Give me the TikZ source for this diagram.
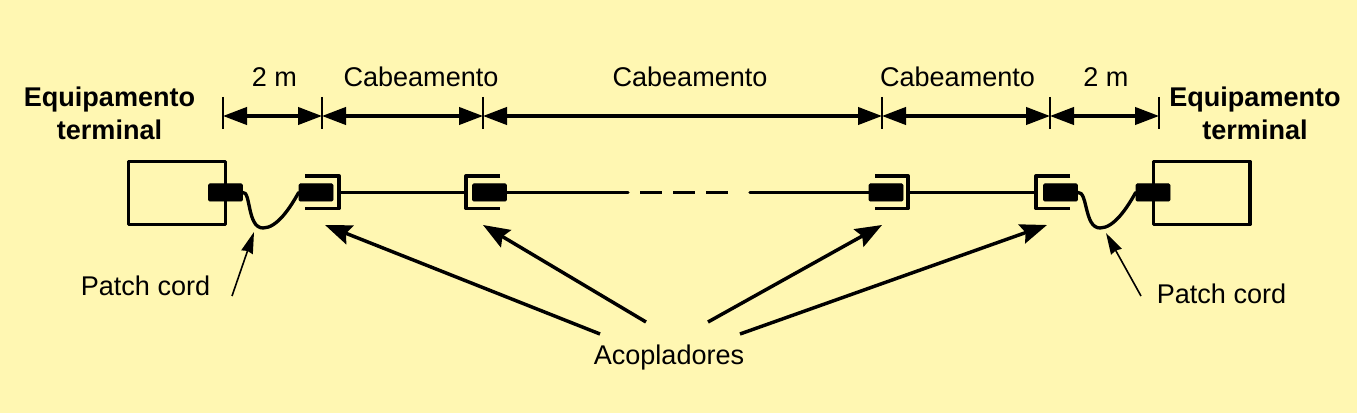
\documentclass[tikz,border=0pt]{standalone}
\usepackage{fontspec}
\setmainfont{Liberation Sans}
\usetikzlibrary{arrows.meta}
\definecolor{bg}{HTML}{FFF7B2}
\tikzset{
  x=0.75pt,y=-0.75pt,
  lab/.style={font=\fontsize{20.3}{24}\selectfont,inner sep=0pt,text=black},
  blab/.style={font=\fontsize{20.3}{24.6}\selectfont\bfseries,inner sep=0pt,align=center},
  wire/.style={line width=2.5pt,line cap=round},
  boxs/.style={draw,line width=2.5pt,line join=round,fill=none},
  plug/.style={fill=black,draw=black,line width=0.5pt,rounded corners=1pt,minimum width=25.5pt,minimum height=13pt,inner sep=0pt},
  dim/.style={line width=2.3pt,{Triangle[length=18pt,width=13pt]}-{Triangle[length=18pt,width=13pt]}},
  tick/.style={line width=1.3pt},
  bigarrow/.style={line width=2.6pt,-{Stealth[length=20pt,width=15pt,inset=3pt]}},
  thinarrow/.style={line width=1.2pt,-{Stealth[length=16pt,width=9pt,inset=1pt]}}
}
\begin{document}
\begin{tikzpicture}
\useasboundingbox[fill=bg] (0,0) rectangle (1357,413);
% end equipment
\node[boxs,minimum width=72.5pt,minimum height=47.5pt,inner sep=0pt] (eqL) at (177,193) {};
\node[boxs,minimum width=72.5pt,minimum height=47.5pt,inner sep=0pt] (eqR) at (1201.5,193) {};
% plugs
\node[plug] (pL) at (225.5,192.5) {};
\node[plug] (p1) at (316,192.5) {};
\node[plug] (p2) at (489.5,192.5) {};
\node[plug] (p3) at (886,192.5) {};
\node[plug] (p4) at (1060.5,192.5) {};
\node[plug] (pR) at (1153,192.5) {};
% coupler brackets
\coordinate (c1) at (339,192.5);
\coordinate (c2) at (466,192.5);
\coordinate (c3) at (908,192.5);
\coordinate (c4) at (1036,192.5);
\draw[boxs] (305,176) -- (339,176) -- (339,208.5) -- (305,208.5);
\draw[boxs] (500,176) -- (466,176) -- (466,208.5) -- (500,208.5);
\draw[boxs] (875,176) -- (908,176) -- (908,208.5) -- (875,208.5);
\draw[boxs] (1070,176) -- (1036,176) -- (1036,208.5) -- (1070,208.5);
% cables
\draw[wire] (c1) -- (c2);
\draw[wire] (c3) -- (c4);
\coordinate (d1) at (628,192.5);
\coordinate (d2) at (750,192.5);
\draw[wire] (p2.east) -- (d1);
\draw[wire,line cap=butt] (640,192.5) -- (662,192.5);
\draw[wire,line cap=butt] (673,192.5) -- (695,192.5);
\draw[wire,line cap=butt] (706,192.5) -- (728,192.5);
\draw[wire] (d2) -- (p3.west);
% patch cords
\draw[wire] (pL.east) .. controls (251,191) and (247,228) .. (263,228) .. controls (277,228) and (290,208) .. (p1.west);
\draw[wire] (p4.east) .. controls (1088,191) and (1084,228) .. (1100,228) .. controls (1114,228) and (1127,208) .. (pR.west);
% dimension ticks
\foreach \n/\x in {t1/223,t2/322,t3/483,t4/882,t5/1050,t6/1159}{
  \coordinate (\n a) at (\x,97);
  \coordinate (\n b) at (\x,129);
  \coordinate (\n) at (\x,116);
  \draw[tick] (\n a) -- (\n b);
}
\draw[dim] (t1) -- (t2);
\draw[dim] (t2) -- (t3);
\draw[dim] (t3) -- (t4);
\draw[dim] (t4) -- (t5);
\draw[dim] (t5) -- (t6);
% texts
\node[lab] (m1) at (274.5,77) {2 m};
\node[lab] (cb1) at (421,77) {Cabeamento};
\node[lab] (cb2) at (690,77) {Cabeamento};
\node[lab] (cb3) at (957.5,77) {Cabeamento};
\node[lab] (m2) at (1106,77) {2 m};
\node[blab] (tL) at (109.5,113.5) {Equipamento\\terminal};
\node[blab] (tR) at (1255,113.5) {Equipamento\\terminal};
\node[lab] (pcL) at (145.5,286) {Patch cord};
\node[lab] (pcR) at (1221.5,294) {Patch cord};
\node[lab] (ac) at (669,358) {Acopladores};
% arrows
\coordinate (a0) at (232,296);
\coordinate (a1) at (254,232);
\coordinate (b0) at (1141,296);
\coordinate (b1) at (1106,233);
\draw[thinarrow] (a0) -- (a1);
\draw[thinarrow] (b0) -- (b1);
\coordinate (s1) at (600,334);
\coordinate (s2) at (646,322);
\coordinate (s3) at (708,322);
\coordinate (s4) at (740,334);
\coordinate (e1) at (325,225);
\coordinate (e2) at (483,225);
\coordinate (e3) at (882,225);
\coordinate (e4) at (1047,225);
\draw[bigarrow] (s1) -- (e1);
\draw[bigarrow] (s2) -- (e2);
\draw[bigarrow] (s3) -- (e3);
\draw[bigarrow] (s4) -- (e4);
\end{tikzpicture}
\end{document}
